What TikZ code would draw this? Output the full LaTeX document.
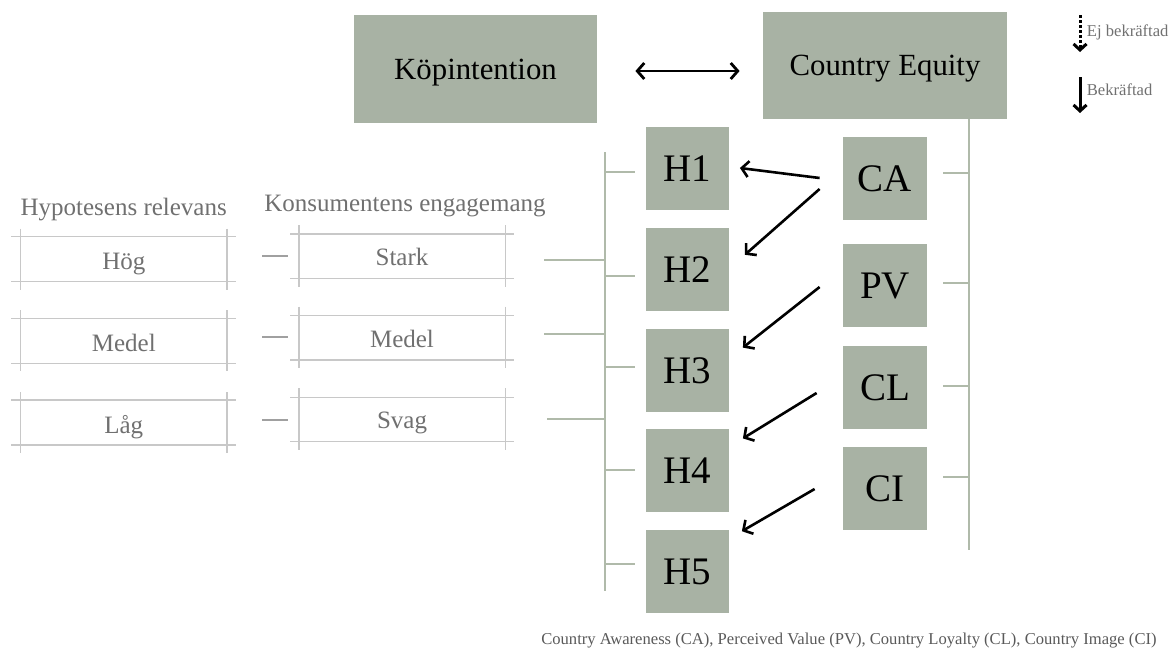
\documentclass[tikz,border=0pt]{standalone}
\usepackage{fontspec}
\setmainfont{Liberation Serif}
\usetikzlibrary{arrows.meta, positioning}
\definecolor{boxgreen}{RGB}{168,178,164}
\definecolor{barline}{RGB}{176,186,170}
\definecolor{cellline}{RGB}{200,200,200}
\definecolor{dashgray}{RGB}{160,160,160}
\definecolor{labelgray}{RGB}{112,112,112}
\tikzset{
  bigbox/.style   = {rectangle, fill=boxgreen, inner sep=0pt,
                     minimum width=121.5pt, minimum height=54pt,
                     text height=10.2pt, text depth=0pt,
                     font=\fontsize{15.4}{18}\selectfont},
  hbox/.style     = {rectangle, fill=boxgreen, inner sep=0pt,
                     minimum width=41.5pt, minimum height=41.5pt,
                     text height=12.9pt, text depth=0pt,
                     font=\fontsize{19.5}{22}\selectfont},
  cell/.style     = {text=labelgray, inner sep=0pt,
                     font=\fontsize{12.5}{14}\selectfont},
  note/.style     = {text=labelgray, inner sep=0pt,
                     font=\fontsize{8.3}{10}\selectfont},
  arrow/.style    = {-{Straight Barb[length=3.5pt,width=8pt]}, line width=1.3pt},
  darrow/.style   = {{Straight Barb[length=3.5pt,width=8pt]}-{Straight Barb[length=3.5pt,width=8pt]},
                     line width=1.4pt},
  legarrow/.style = {-{Straight Barb[length=3pt,width=6.5pt]}, line width=1.5pt},
  bar/.style      = {barline, line width=1.45pt},
  rule/.style     = {cellline, line width=0.55pt},
  linkdash/.style = {dashgray, line width=1.4pt},
}
\begin{document}
\begin{tikzpicture}[x=0.5pt, y=-0.5pt, node distance=8.5pt]
  \useasboundingbox (0,0) rectangle (1170,648);
  % top row
  \node[bigbox] (kop) at (475.5,69) {Köpintention};
  \node[bigbox, minimum width=122pt, minimum height=53.8pt] (ce) at (885,65.5) {Country Equity};
  \draw[darrow] ([shift={(38,2)}]kop.east) -- ([shift={(-23,5.5)}]ce.west);

  % hypotheses
  \node[hbox] (h1) at (687.5,168.5) {H1};
  \node[hbox, below=of h1] (h2) {H2};
  \node[hbox, below=of h2] (h3) {H3};
  \node[hbox, below=of h3] (h4) {H4};
  \node[hbox, below=of h4] (h5) {H5};

  % dimensions
  \node[hbox, minimum width=42pt] (ca) at (885,178.5) {CA};
  \node[hbox, minimum width=42pt] (pv) at (885,285.5) {PV};
  \node[hbox, minimum width=42pt] (cl) at (885,387.5) {CL};
  \node[hbox, minimum width=42pt] (ci) at (885,488.5) {CI};

  \draw[arrow] ([shift={(-23,-0.5)}]ca.west) -- ([shift={(10.5,-0.5)}]h1.east);
  \draw[arrow] ([shift={(-23,10.5)}]ca.west) -- ([shift={(15.5,-14.5)}]h2.east);
  \draw[arrow] ([shift={(-23,1.5)}]pv.west) -- ([shift={(13.5,-22.5)}]h3.east);
  \draw[arrow] ([shift={(-26,5.5)}]cl.west) -- ([shift={(13.5,-32.5)}]h4.east);
  \draw[arrow] ([shift={(-28,0.5)}]ci.west) -- ([shift={(12.5,-40.5)}]h5.east);

  % brackets
  \draw[bar] (605,152) -- (605,591);
  \foreach \y in {172,276,367,470,564}
    \draw[bar] (605,\y) -- (635,\y);
  \foreach \y/\x in {260/544,334/544,419/547}
    \draw[bar] (\x,\y) -- (605,\y);
  \draw[bar] (969,119) -- (969,550);
  \foreach \y in {173,283,386,477}
    \draw[bar] (943,\y) -- (969,\y);

  % table
  \node[cell, anchor=base] (hyphead) at (123.7,215) {Hypotesens relevans};
  \node[cell, anchor=base] (konhead) at (405,211.7) {Konsumentens engagemang};
  \foreach \t/\txt/\n in {236.7/Hög/1,318.3/Medel/2,400/Låg/3} {
    \draw[rule] (11,\t) -- (236,\t) (11,\t+45) -- (236,\t+45);
    \draw[rule] (20.7,\t-8) -- (20.7,\t+53) (227,\t-8) -- (227,\t+53);
    \node[cell, anchor=base] (hyp\n) at (123.8,\t+33) {\txt};
  }
  \foreach \t/\txt/\n in {234/Stark/1,315.7/Medel/2,397.3/Svag/3} {
    \draw[rule] (290,\t) -- (514,\t) (290,\t+44.3) -- (514,\t+44.3);
    \draw[rule] (299,\t-9) -- (299,\t+52.7) (505.7,\t-9) -- (505.7,\t+52.7);
    \node[cell, anchor=base] (kon\n) at (402,\t+31.5) {\txt};
  }
  \foreach \y in {256,337,420}
    \draw[linkdash] (262,\y) -- (288,\y);

  % legend
  \coordinate (ejtop) at (1080,15);
  \coordinate (ejbot) at (1080,52);
  \draw[legarrow, dash pattern=on 1.5pt off 1pt] (ejtop) -- (ejbot);
  \node[note, anchor=base west] (ej) at (1086.5,36) {Ej bekräftad};
  \coordinate (bktop) at (1080,77);
  \coordinate (bkbot) at (1080,113);
  \draw[legarrow] (bktop) -- (bkbot);
  \node[note, anchor=base west] (bk) at (1086.5,95) {Bekräftad};

  \node[note, anchor=base east, text=black!65] (foot) at (1157,644)
    {Country Awareness (CA), Perceived Value (PV), Country Loyalty (CL), Country Image (CI)};
\end{tikzpicture}
\end{document}
